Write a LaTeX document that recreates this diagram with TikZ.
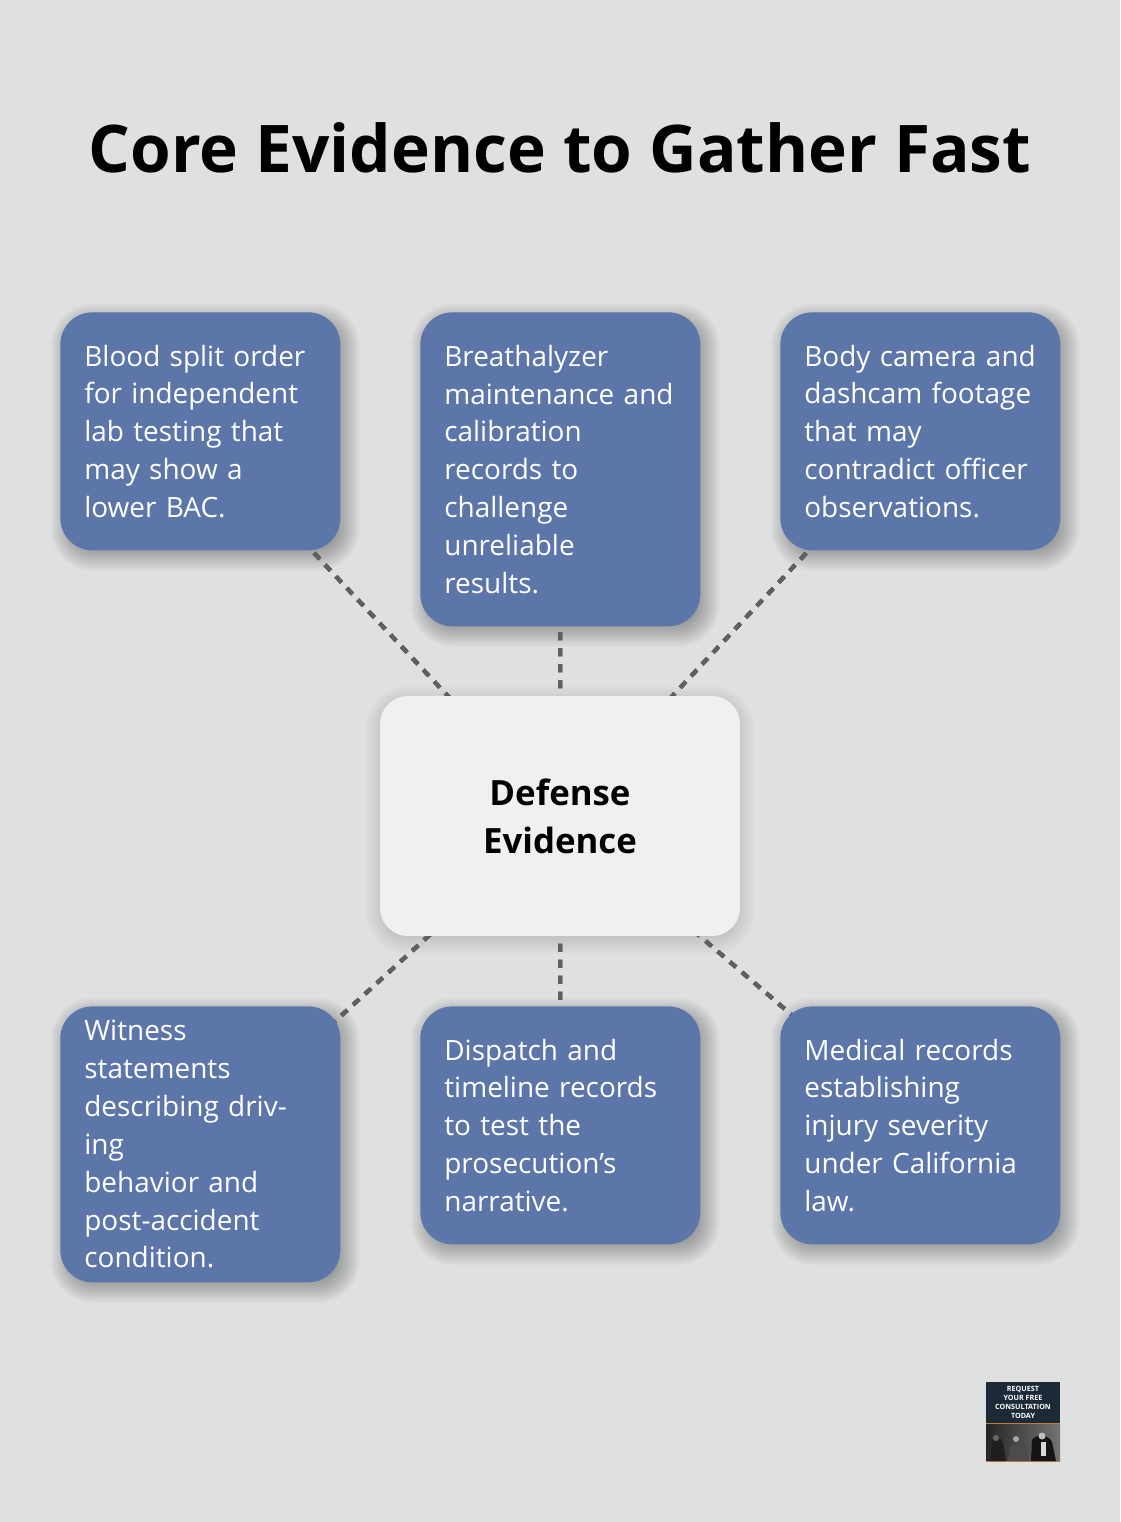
\documentclass[tikz,border=0pt]{standalone}
\usepackage{fontspec}
\setmainfont{Open Sans}
\usetikzlibrary{backgrounds,calc}
\definecolor{pagebg}{RGB}{223,225,224}
\definecolor{boxblue}{RGB}{92,118,169}
\definecolor{hubwhite}{RGB}{239,240,242}
\definecolor{linkgrey}{RGB}{96,96,96}
\definecolor{logonavy}{RGB}{27,42,54}
\definecolor{logoorange}{RGB}{196,122,58}
\newcommand{\softshadow}[4]{%
  \foreach \g in {-8,-6,...,14}
    \fill[black,opacity=#4,rounded corners={(28+\g)*0.02cm}]
      ($(#1.south west)+(#2-\g,#3+\g)$) rectangle ($(#1.north east)+(#2+\g,#3-\g)$);
}
\tikzset{
  evidence/.style={fill=boxblue,text=white,rounded corners=0.64cm,align=left,anchor=north west,
    text width=4.64cm,inner xsep=0.48cm,inner ysep=0pt,font=\fontsize{15.9pt}{21.54pt}\selectfont},
  hub/.style={fill=hubwhite,rounded corners=0.56cm,align=center,minimum width=7.2cm,minimum height=4.8cm,
    inner sep=0pt,font=\fontsize{19.8pt}{27.2pt}\selectfont\bfseries},
  link/.style={draw=linkgrey,line width=0.08cm,dash pattern=on 0.16cm off 0.16cm},
  logoline/.style={text=white,inner sep=0pt,font=\fontsize{4.1pt}{5pt}\selectfont\bfseries},
}
\begin{document}
\begin{tikzpicture}[x=0.02cm,y=-0.02cm]
  \useasboundingbox (0,0) rectangle (1120,1522);
  \node[inner sep=0pt,font=\fontsize{37.4pt}{44pt}\selectfont\bfseries] (title) at (560,148) {Core Evidence to Gather Fast};

  \node[hub] (hub) at (560,816) {Defense\\Evidence};

  \node[evidence,minimum height=4.76cm] (blood) at (60,312) {Blood split order\\for independent\\lab testing that\\may show a\\lower BAC.};
  \node[evidence,minimum height=6.28cm] (breath) at (420,312) {Breathalyzer\\maintenance and\\calibration\\records to\\challenge\\unreliable\\results.};
  \node[evidence,minimum height=4.76cm] (body) at (780,312) {Body camera and\\dashcam footage\\that may\\contradict officer\\observations.};
  \node[evidence,minimum height=5.52cm] (witness) at (60,1006) {Witness\\statements\\describing driving\\behavior and\\post-accident\\condition.};
  \node[evidence,minimum height=4.76cm] (dispatch) at (420,1006) {Dispatch and\\timeline records\\to test the\\prosecution’s\\narrative.};
  \node[evidence,minimum height=4.76cm] (medical) at (780,1006) {Medical records\\establishing\\injury severity\\under California\\law.};

  % logo
  \fill[logonavy] (986,1382) rectangle (1060,1423);
  \fill[left color=black!85,right color=black!55] (986,1424) rectangle (1060,1461);
  \fill[logoorange] (986,1423) rectangle (1060,1424);
  \fill[logoorange] (986,1461) rectangle (1060,1462);
  \node[logoline] (logo1) at (1023,1389) {REQUEST};
  \node[logoline] (logo2) at (1023,1398) {YOUR FREE};
  \node[logoline] (logo3) at (1023,1407) {CONSULTATION};
  \node[logoline] (logo4) at (1023,1416) {TODAY};
  \fill[black!88] (990,1461) -- (992,1442) .. controls (993,1436) and (1001,1436) .. (1003,1442) -- (1006,1461) -- cycle;
  \fill[black!60!white] (996,1438) circle (3);
  \fill[black!70] (1008,1461) -- (1010,1447) .. controls (1014,1443) and (1022,1443) .. (1026,1447) -- (1029,1461) -- cycle;
  \fill[black!35!white] (1016,1439) circle (3);
  \fill[black!92] (1031,1461) -- (1032,1440) .. controls (1036,1434) and (1048,1434) .. (1052,1442) -- (1056,1461) -- cycle;
  \fill[black!25!white] (1042,1436) circle (3.5);
  \fill[black!15!white] (1041,1442) rectangle (1046,1456);

  \begin{pgfonlayer}{background}
    \fill[pagebg] (0,0) rectangle (1120,1522);
    \softshadow{hub}{0}{4}{0.012}
    \foreach \n in {blood,breath,body,witness,dispatch,medical}
      \softshadow{\n}{5}{6}{0.028}
    \foreach \n in {blood,breath,body,witness,dispatch,medical}
      \draw[link] (hub.center) -- (\n.center);
  \end{pgfonlayer}
\end{tikzpicture}
\end{document}
